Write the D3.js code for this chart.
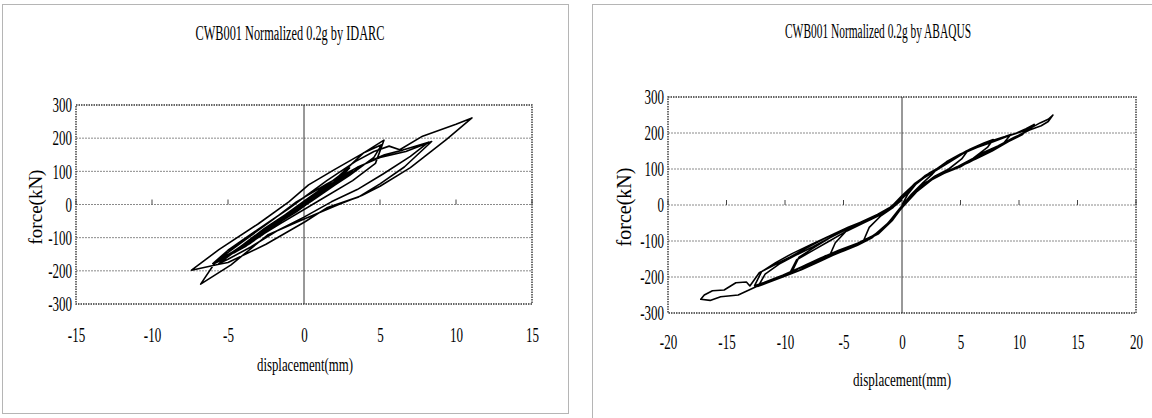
<!DOCTYPE html>
<html>
<head>
<meta charset="utf-8">
<script src="https://cdn.jsdelivr.net/npm/d3@7"></script>
<style>
  body { margin: 0; background: #fff; }
  svg { display: block; }
  text { font-family: "Liberation Serif", "Times New Roman", serif; fill: #000; }
</style>
</head>
<body>
<svg id="chart" width="1152" height="418"></svg>
<script>
// tick values
const forceTicks = [-300, -200, -100, 0, 100, 200, 300];
const idarcDispTicks = [-15, -10, -5, 0, 5, 10, 15];
const abaqusDispTicks = [-20, -15, -10, -5, 0, 5, 10, 15, 20];

// [displacement (mm), force (kN)]
const idarcLoop = [
  [0, 0], [0.8, 28], [1.5, 50], [1.0, 32], [0.0, 4], [-0.8, -24], [-1.5, -42], [-1.0, -26], [0.0, 2],
  [1.2, 42], [2.2, 74], [1.6, 50], [0.2, 8], [-1.2, -36], [-2.4, -74], [-1.8, -52], [-0.4, -14],
  [1.0, 36], [2.8, 92], [3.2, 104], [2.3, 68], [0.8, 24], [-1.0, -32], [-2.8, -94], [-3.5, -114], [-2.6, -82], [-1.0, -30],
  [0.8, 32], [2.0, 76], [3.0, 110], [2.2, 72], [0.5, 16], [-1.6, -52], [-3.5, -116], [-4.6, -146], [-4.0, -122], [-2.0, -56], [0.0, 10],
  [2.2, 82], [3.9, 155], [5.26, 194], [4.7, 124], [3.2, 72], [1.0, 12], [-1.5, -56], [-3.5, -112], [-5.2, -162], [-5.9, -178], [-5.4, -158], [-3.8, -104], [-2.0, -44], [-0.5, 8],
  [1.5, 62], [3.5, 112], [5.0, 142], [6.7, 160], [8.4, 190], [6.6, 113], [5.0, 62], [3.6, 23], [1.5, -10], [0.07, -52], [-2.5, -120], [-5.0, -175], [-5.6, -180], [-6.2, -186], [-7.4, -198],
  [-5.6, -136], [-3.0, -58], [-1.0, 8], [0.3, 59], [2.0, 105], [3.9, 155], [5.1, 180], [4.6, 142], [3.0, 88], [1.0, 28], [-1.2, -38], [-3.2, -100], [-5.2, -160], [-6.0, -178], [-5.0, -138], [-3.0, -74], [-1.0, -12],
  [1.5, 72], [3.4, 130], [4.6, 160], [5.6, 176], [6.3, 165], [7.8, 206], [10.0, 242], [11.05, 261], [9.4, 197], [7.0, 111], [5.0, 55], [3.8, 27], [2.4, 2], [-0.3, -50], [-2.4, -92], [-4.8, -182], [-6.8, -240],
  [-5.8, -172], [-4.5, -138], [-3.0, -88], [-1.5, -40], [0.0, 5], [1.5, 48], [3.0, 92], [4.2, 128], [5.3, 150], [6.5, 164], [8.2, 188], [7.0, 145], [5.2, 92], [3.5, 45], [1.8, 8], [0.0, -38], [-1.8, -80], [-3.5, -128], [-5.0, -165], [-5.6, -178],
  [-4.6, -140], [-3.0, -90], [-1.2, -30], [0.5, 25], [2.0, 68], [3.0, 95], [2.0, 58], [0.5, 10], [-1.0, -35], [-2.5, -78], [-1.5, -45], [0.0, 0],
  [0.5, 20], [1.8, 58], [2.5, 80], [1.2, 35], [-0.5, -22], [-2.2, -70], [-3.8, -125], [-4.4, -140], [-3.2, -95], [-1.5, -40], [0.2, 12], [1.6, 55], [0.4, 20],
  [-1.8, -62], [-3.2, -105], [-4.8, -150], [-5.3, -168], [-4.2, -128], [-2.6, -72], [-0.8, -18], [0.8, 30], [2.4, 82], [1.4, 42], [-0.2, -8], [-2.0, -66],
  [-3.6, -118], [-2.4, -80], [-0.6, -20], [0.0, 0]
];

// [displacement (mm), force (kN)]
const abaqusLoop = [
  [0, 0], [0.5, 30], [1.2, 58], [2.2, 84], [3.0, 100], [2.6, 86], [1.8, 62], [0.8, 30], [0, -2], [-0.8, -36], [-1.8, -70], [-2.8, -92], [-3.3, -100], [-2.8, -62], [-1.8, -30], [-0.8, -8],
  [0.3, 32], [1.4, 66], [2.6, 92], [3.8, 120], [5.0, 142], [5.6, 150], [5.1, 128], [4.0, 100], [2.8, 80], [1.6, 50], [0.6, 16], [-0.4, -22], [-1.5, -62], [-2.6, -92], [-3.8, -112], [-5.0, -128], [-6.2, -142],
  [-5.7, -105], [-4.7, -70], [-3.5, -50], [-2.3, -32], [-1.2, -14], [-0.2, 14],
  [0.9, 52], [2.0, 82], [3.2, 104], [4.5, 130], [5.8, 155], [7.0, 172], [7.8, 182], [7.3, 160], [6.1, 130], [4.7, 106], [3.3, 84], [2.0, 62], [0.8, 28], [-0.2, -10], [-1.3, -55], [-2.5, -88], [-4.0, -112],
  [-5.5, -130], [-7.0, -150], [-8.5, -172], [-9.4, -185], [-8.8, -145], [-7.6, -120], [-6.2, -92], [-4.8, -68], [-3.4, -46], [-2.1, -26], [-1.0, -6], [0, 22],
  [1.1, 60], [2.3, 88], [3.6, 112], [5.0, 140], [6.4, 160], [7.8, 176], [9.2, 193], [10.4, 206], [10.9, 216], [10.3, 196], [9.1, 176], [7.7, 150], [6.3, 128], [4.9, 108], [3.4, 86], [2.1, 64], [0.9, 30],
  [-0.1, -8], [-1.2, -50], [-2.4, -84], [-3.8, -106], [-5.4, -126], [-7.0, -148], [-8.6, -172], [-10.2, -195], [-11.8, -215], [-12.6, -224], [-12.0, -185], [-10.8, -160], [-9.4, -135], [-7.8, -110],
  [-6.2, -86], [-4.6, -62], [-3.1, -42], [-1.9, -24], [-0.8, -4], [0.2, 28],
  [1.3, 64], [2.6, 90], [4.0, 118], [5.4, 146], [6.8, 168], [8.2, 182], [9.6, 197], [10.8, 210], [11.8, 228], [12.5, 238], [12.9, 250], [12.5, 232], [11.9, 220], [10.9, 208], [9.6, 188], [8.2, 164],
  [6.8, 144], [5.3, 112], [3.9, 92], [2.5, 72], [1.2, 40], [0.2, 2], [-0.8, -42], [-2.0, -80], [-3.4, -102], [-5.0, -124], [-6.6, -142], [-8.2, -166], [-9.8, -192], [-11.2, -208], [-12.8, -232],
  [-14.0, -250], [-15.5, -255], [-16.4, -265], [-17.2, -262],
  [-16.9, -250], [-16.2, -238], [-15.2, -236], [-14.2, -216], [-13.3, -214], [-13.0, -225], [-12.2, -188], [-11.0, -168], [-9.6, -145], [-8.2, -120], [-6.8, -96], [-5.4, -74], [-4.0, -56],
  [-2.8, -38], [-1.8, -22], [-0.9, -4], [0, 26],
  [1.2, 62], [2.5, 88], [4.0, 122], [5.5, 150], [7.0, 172], [8.5, 186], [9.8, 200], [10.6, 212], [11.3, 224], [10.7, 206], [9.5, 186], [8.1, 160], [6.5, 136], [5.0, 106], [3.6, 88], [2.3, 66],
  [1.0, 34], [0, -4], [-1.1, -48], [-2.3, -84], [-3.8, -110], [-5.4, -132], [-7.0, -156], [-8.6, -180], [-10.2, -200], [-11.5, -216], [-12.3, -226], [-11.7, -192], [-10.5, -164], [-9.1, -140],
  [-7.6, -116], [-6.0, -88], [-4.5, -64], [-3.0, -44], [-1.8, -26], [-0.8, -6], [0.2, 24],
  [1.4, 66], [3.0, 98], [4.6, 134], [6.2, 160], [7.6, 178], [8.8, 190], [9.3, 196], [8.7, 172], [7.3, 146], [5.7, 118], [4.1, 96], [2.7, 74], [1.3, 38], [0.1, -4], [-1.0, -46], [-2.4, -84],
  [-4.0, -114], [-5.8, -138], [-7.4, -160], [-8.8, -182], [-9.6, -190], [-9.0, -152], [-7.6, -126], [-6.2, -100], [-4.7, -72], [-3.3, -50], [-2.0, -30], [-0.9, -10], [0, 14]
];

const svg = d3.select('#chart');

// the original uses a narrow serif, so squash the glyphs horizontally
function squeeze(sel, k) {
  sel.each(function () {
    const w = this.getComputedTextLength();
    d3.select(this).attr('textLength', w * k).attr('lengthAdjust', 'spacingAndGlyphs');
  });
}

function drawPanel(o) {
  const g = svg.append('g');

  g.append('rect')
    .attr('x', o.frame[0]).attr('y', o.frame[1])
    .attr('width', o.frame[2]).attr('height', o.frame[3])
    .attr('fill', 'none').attr('stroke', '#b5b5b5').attr('stroke-width', 1);

  const x = d3.scaleLinear().domain(d3.extent(o.xTicks)).range([o.left, o.right]);
  const y = d3.scaleLinear().domain(d3.extent(forceTicks)).range([o.bottom, o.top]);

  // horizontal gridlines (0 included)
  g.selectAll('.grid')
    .data(forceTicks.slice(1, -1))
    .join('line')
    .attr('class', 'grid')
    .attr('x1', o.left).attr('x2', o.right)
    .attr('y1', d => y(d)).attr('y2', d => y(d))
    .attr('stroke', '#8a8a8a').attr('stroke-width', 1)
    .attr('stroke-dasharray', '2,1');

  // vertical axis at x = 0
  g.append('line')
    .attr('x1', x(0)).attr('x2', x(0))
    .attr('y1', o.top).attr('y2', o.bottom)
    .attr('stroke', '#333').attr('stroke-width', 1);

  // small tick marks on the y = 0 line
  g.selectAll('.tick0')
    .data(o.xTicks.filter(d => d !== 0))
    .join('line')
    .attr('class', 'tick0')
    .attr('x1', d => x(d)).attr('x2', d => x(d))
    .attr('y1', y(0) - 5).attr('y2', y(0))
    .attr('stroke', '#444').attr('stroke-width', 1);

  // plot area border
  g.append('rect')
    .attr('x', o.left).attr('y', o.top)
    .attr('width', o.right - o.left).attr('height', o.bottom - o.top)
    .attr('fill', 'none').attr('stroke', '#333')
    .attr('stroke-width', 1.4).attr('stroke-dasharray', '1.5,1');

  // hysteresis curve
  const line = d3.line().x(d => x(d[0])).y(d => y(d[1]));
  g.append('path')
    .datum(o.data)
    .attr('d', line)
    .attr('fill', 'none').attr('stroke', '#000')
    .attr('stroke-width', 1.6).attr('stroke-linejoin', 'round');

  // tick labels
  const ax = g.append('g')
    .attr('transform', `translate(0,${o.xLabelY})`)
    .call(d3.axisBottom(x).tickValues(o.xTicks).tickSize(0).tickPadding(0).tickFormat(d => String(d)));
  const ay = g.append('g')
    .attr('transform', `translate(${o.left},0)`)
    .call(d3.axisLeft(y).tickValues(forceTicks).tickSize(0).tickPadding(4).tickFormat(d => String(d)));
  [ax, ay].forEach(a => {
    a.select('.domain').remove();
    a.selectAll('text').attr('font-size', 21).attr('font-family', null).attr('fill', '#000');
    squeeze(a.selectAll('text'), 0.62);
  });

  // titles
  g.append('text')
    .attr('x', o.titleX).attr('y', o.titleY)
    .attr('text-anchor', 'middle').attr('font-size', 20)
    .text(o.title)
    .attr('textLength', o.titleW).attr('lengthAdjust', 'spacingAndGlyphs');

  g.append('text')
    .attr('x', o.xTitleX).attr('y', o.xTitleY)
    .attr('text-anchor', 'middle').attr('font-size', 19)
    .text('displacement(mm)')
    .attr('textLength', o.xTitleW).attr('lengthAdjust', 'spacingAndGlyphs');

  g.append('text')
    .attr('transform', `translate(${o.yTitleX},${o.yTitleY}) rotate(-90)`)
    .attr('text-anchor', 'middle').attr('dy', '0.35em')
    .attr('font-size', o.yTitleSize)
    .text('force(kN)');
}

drawPanel({
  data: idarcLoop, xTicks: idarcDispTicks,
  left: 76, right: 532, top: 105, bottom: 304,
  frame: [2.5, 4.5, 566, 409],
  title: 'CWB001 Normalized 0.2g by IDARC', titleX: 290, titleY: 40, titleW: 189,
  xLabelY: 327, xTitleX: 305, xTitleY: 371, xTitleW: 96,
  yTitleX: 35, yTitleY: 207, yTitleSize: 19
});

drawPanel({
  data: abaqusLoop, xTicks: abaqusDispTicks,
  left: 668, right: 1136, top: 97, bottom: 313,
  frame: [592.5, 4.5, 600, 500],
  title: 'CWB001 Normalized 0.2g by ABAQUS', titleX: 878, titleY: 38, titleW: 186,
  xLabelY: 334, xTitleX: 902, xTitleY: 386, xTitleW: 98,
  yTitleX: 624, yTitleY: 207, yTitleSize: 20
});
</script>
</body>
</html>
